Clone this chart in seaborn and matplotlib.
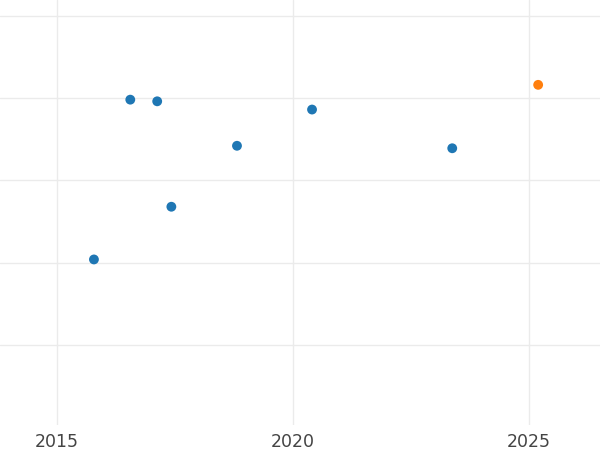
import matplotlib
matplotlib.use("Agg")
import matplotlib.pyplot as plt
import seaborn as sns
import pandas as pd

# values
years = [2015.78, 2016.55, 2017.12, 2017.42, 2018.81, 2020.40, 2023.37, 2025.19]
values = [20.4, 39.8, 39.6, 26.8, 34.2, 38.6, 33.9, 41.6]
groups = ["past", "past", "past", "past", "past", "past", "past", "latest"]
palette = {"past": "#1f77b4", "latest": "#ff7f0e"}
x_ticks = [2015, 2020, 2025]
y_ticks = [10, 20, 30, 40, 50]

df = pd.DataFrame({"year": years, "value": values, "group": groups})

sns.set_theme(style="whitegrid")
fig = plt.figure(figsize=(6, 4.5), dpi=100)
ax = fig.add_axes([0, 25 / 450, 1, 425 / 450])

sns.scatterplot(data=df, x="year", y="value", hue="group", palette=palette,
                s=50, linewidth=0, legend=False, ax=ax)

ax.set_xlim(2013.79, 2026.5)
ax.set_ylim(0.3, 51.9)
ax.set_xticks(x_ticks)
ax.set_xticklabels([str(t) for t in x_ticks])
ax.set_yticks(y_ticks)
ax.set_yticklabels([])
ax.set_xlabel("")
ax.set_ylabel("")
ax.grid(True, color="#ebebeb", linewidth=1)
for side in ax.spines.values():
    side.set_visible(False)
ax.tick_params(axis="x", length=0, labelsize=12.5, labelcolor="#444444", pad=6)
ax.tick_params(axis="y", length=0)

fig.savefig("out.png", dpi=100)
